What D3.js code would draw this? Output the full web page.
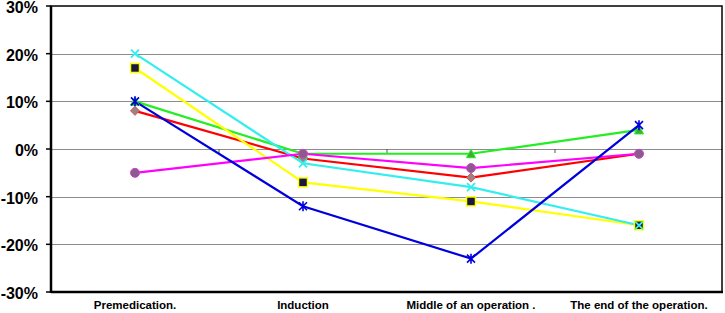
<!DOCTYPE html>
<html><head><meta charset="utf-8">
<script src="https://cdn.jsdelivr.net/npm/d3@7"></script>
<style>body{margin:0;background:#fff}svg{display:block}</style>
</head><body>
<script>
const categories = ["Premedication.", "Induction", "Middle of an operation .", "The end of the operation."];
const yTicks = [-30, -20, -10, 0, 10, 20, 30];
const seriesRed = [8, -2, -6, -1];
const seriesGreen = [10, -1, -1, 4];
const seriesYellow = [17, -7, -11, -16];
const seriesCyan = [20, -3, -8, -16];
const seriesMagenta = [-5, -1, -4, -1];
const seriesBlue = [10, -12, -23, 5];

const series = [
  {values: seriesRed, color: "#ff0000", marker: "diamond"},
  {values: seriesGreen, color: "#22ee22", marker: "triangle"},
  {values: seriesYellow, color: "#ffff00", marker: "square"},
  {values: seriesCyan, color: "#33eeee", marker: "x"},
  {values: seriesMagenta, color: "#ff00ff", marker: "circle"},
  {values: seriesBlue, color: "#0000dd", marker: "star"}
];

const W = 725, H = 313;
const L = 51, R = 723, T = 6, B = 292;
const svg = d3.select("body").append("svg").attr("width", W).attr("height", H);
const x = d3.scaleBand().domain(categories).range([L, R]);
const y = d3.scaleLinear().domain([-30, 30]).range([B, T]);

// gridlines
svg.append("g").selectAll("line").data(yTicks.filter(d => d > -30 && d < 30)).join("line")
  .attr("x1", L).attr("x2", R).attr("y1", d => Math.round(y(d)) + 0.5).attr("y2", d => Math.round(y(d)) + 0.5)
  .attr("stroke", "#8c8c8c").attr("stroke-width", 1);

// category tick marks at zero line
svg.append("g").selectAll("line").data(categories.slice(1)).join("line")
  .attr("x1", d => x(d)).attr("x2", d => x(d))
  .attr("y1", y(0)).attr("y2", y(0) + 4)
  .attr("stroke", "#555").attr("stroke-width", 1);

// frame
svg.append("rect").attr("x", L).attr("y", T).attr("width", R - L - 1).attr("height", B - T)
  .attr("fill", "none").attr("stroke", "#000").attr("stroke-width", 1.5);
svg.append("line").attr("x1", L).attr("x2", L).attr("y1", T).attr("y2", B + 1)
  .attr("stroke", "#000").attr("stroke-width", 2.5);
svg.append("line").attr("x1", L).attr("x2", R).attr("y1", B).attr("y2", B)
  .attr("stroke", "#000").attr("stroke-width", 2.5);

// y axis ticks and labels
svg.append("g").selectAll("line").data(yTicks).join("line")
  .attr("x1", L - 5).attr("x2", L).attr("y1", d => y(d)).attr("y2", d => y(d))
  .attr("stroke", "#000").attr("stroke-width", 1.5);
svg.append("g").selectAll("text").data(yTicks).join("text")
  .attr("x", 38).attr("y", d => y(d) + 7)
  .attr("text-anchor", "end")
  .attr("font-family", "Liberation Sans, Arial, sans-serif").attr("font-weight", "bold").attr("font-size", 16)
  .text(d => d + "%");

// x labels
svg.append("g").selectAll("text").data(categories).join("text")
  .attr("x", d => x(d) + x.bandwidth() / 2).attr("y", 309)
  .attr("text-anchor", "middle")
  .attr("font-family", "Liberation Sans, Arial, sans-serif").attr("font-weight", "bold").attr("font-size", 11.5)
  .text(d => d);

const line = d3.line().x((d, i) => x(categories[i]) + x.bandwidth() / 2).y(d => y(d));

function drawMarker(g, m, color) {
  if (m === "diamond") {
    g.append("path").attr("d", "M0,-4.5L4.5,0L0,4.5L-4.5,0Z").attr("fill", "#a08080").attr("stroke", "#cc5555").attr("stroke-width", 1);
  } else if (m === "triangle") {
    g.append("path").attr("d", "M0,-4.5L4.5,4L-4.5,4Z").attr("fill", "#44aa33").attr("stroke", "#22ee22").attr("stroke-width", 1);
  } else if (m === "square") {
    g.append("rect").attr("x", -4.5).attr("y", -4.5).attr("width", 9).attr("height", 9).attr("fill", "#1a1a40").attr("stroke", "#ffff00").attr("stroke-width", 1.5);
  } else if (m === "x") {
    g.append("path").attr("d", "M-4,-4L4,4M-4,4L4,-4").attr("stroke", color).attr("stroke-width", 1.8);
  } else if (m === "circle") {
    g.append("circle").attr("r", 4.5).attr("fill", "#8c5a8c").attr("stroke", "#cc44cc").attr("stroke-width", 1);
  } else if (m === "star") {
    g.append("path").attr("d", "M-4,-4L4,4M-4,4L4,-4M0,-5L0,5").attr("stroke", color).attr("stroke-width", 1.6);
  }
}

series.forEach(s => {
  svg.append("path").datum(s.values).attr("d", line)
    .attr("fill", "none").attr("stroke", s.color).attr("stroke-width", 2.2);
});
series.forEach(s => {
  s.values.forEach((v, i) => {
    const g = svg.append("g").attr("transform", `translate(${x(categories[i]) + x.bandwidth() / 2},${y(v)})`);
    drawMarker(g, s.marker, s.color);
  });
});
</script>
</body></html>
